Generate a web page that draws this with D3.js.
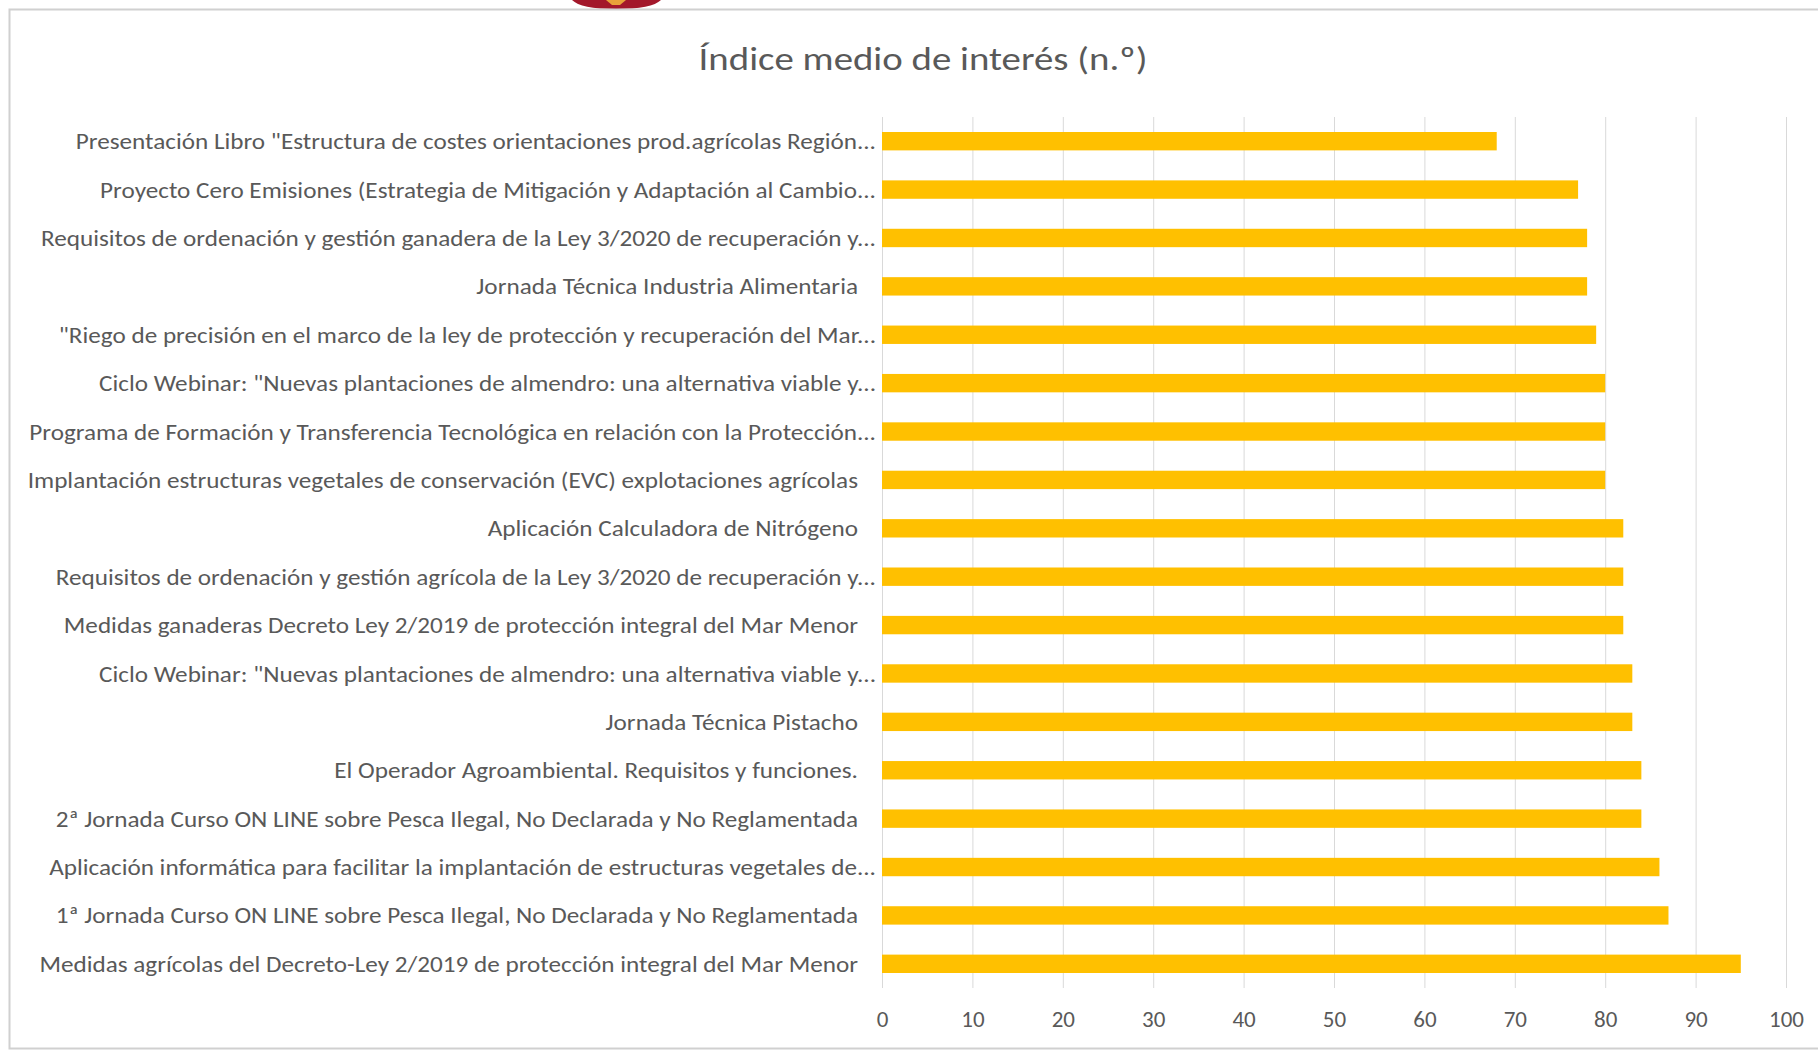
<!DOCTYPE html>
<html>
<head>
<meta charset="utf-8">
<script src="https://cdn.jsdelivr.net/npm/d3@7"></script>
<style>
  body { margin: 0; background: #fff; }
  svg { display: block; }
  text { fill: #595959; }
</style>
</head>
<body>
<script>
// categories, top to bottom as in the chart
var categories = [
  'Presentación Libro "Estructura de costes orientaciones prod.agrícolas Región...',
  'Proyecto Cero Emisiones (Estrategia de Mitigación y Adaptación al Cambio...',
  'Requisitos de ordenación y gestión ganadera de la Ley 3/2020 de recuperación y...',
  'Jornada Técnica Industria Alimentaria',
  '"Riego de precisión en el marco de la ley de protección y recuperación del Mar...',
  'Ciclo Webinar: "Nuevas plantaciones de almendro: una alternativa viable y...',
  'Programa de Formación y Transferencia Tecnológica en relación con la Protección...',
  'Implantación estructuras vegetales de conservación (EVC) explotaciones agrícolas',
  'Aplicación Calculadora de Nitrógeno',
  'Requisitos de ordenación y gestión agrícola de la Ley 3/2020 de recuperación y...',
  'Medidas ganaderas Decreto Ley 2/2019 de protección integral del Mar Menor',
  'Ciclo Webinar: "Nuevas plantaciones de almendro: una alternativa viable y... ',
  'Jornada Técnica Pistacho',
  'El Operador Agroambiental. Requisitos y funciones.',
  '2ª Jornada Curso ON LINE sobre Pesca Ilegal, No Declarada y No Reglamentada',
  'Aplicación informática para facilitar la implantación de estructuras vegetales de...',
  '1ª Jornada Curso ON LINE sobre Pesca Ilegal, No Declarada y No Reglamentada',
  'Medidas agrícolas del Decreto-Ley 2/2019 de protección integral del Mar Menor'
];

// mean interest index per session
var values = [68, 77, 78, 78, 79, 80, 80, 80, 82, 82, 82, 83, 83, 84, 84, 86, 87, 95];

// x axis ticks
var xTicks = [0, 10, 20, 30, 40, 50, 60, 70, 80, 90, 100];

var title = 'Índice medio de interés (n.º)';

var width = 1818,
    height = 1051;

var font = "Carlito, Calibri, 'Liberation Sans Narrow', 'DejaVu Sans Condensed', 'Open Sans', sans-serif";

var svg = d3.select('body').append('svg')
  .attr('width', width)
  .attr('height', height);

// logo fragment peeking at the top
svg.append('path')
  .attr('d', 'M572,0 L661,0 C655,6 640,9 616,9 C592,9 578,6 572,0 Z')
  .attr('fill', '#a3182b');
svg.append('path')
  .attr('d', 'M606,0 L626,0 L620,5 L612,5 Z')
  .attr('fill', '#e8a23a');

// chart frame
svg.append('rect')
  .attr('x', 9.5).attr('y', 9.5)
  .attr('width', width + 10).attr('height', 1039)
  .attr('fill', '#fff')
  .attr('stroke', '#d0d0d0')
  .attr('stroke-width', 2);

// scales
var x = d3.scaleLinear()
  .domain([0, 100])
  .range([882, 1786]);

var y = d3.scaleBand()
  .domain(categories)
  .range([117, 988])
  .paddingInner(0.62)
  .paddingOuter(0.31);

// gridlines
svg.append('g')
  .selectAll('line')
  .data(xTicks)
  .enter().append('line')
  .attr('x1', function(d) { return x(d) + 0.5; })
  .attr('x2', function(d) { return x(d) + 0.5; })
  .attr('y1', 117)
  .attr('y2', 988)
  .attr('stroke', '#d9d9d9')
  .attr('stroke-width', 1);

// bars
svg.append('g')
  .selectAll('rect')
  .data(values)
  .enter().append('rect')
  .attr('x', x(0))
  .attr('y', function(d, i) { return y(categories[i]); })
  .attr('width', function(d) { return x(d) - x(0); })
  .attr('height', y.bandwidth())
  .attr('fill', '#ffc000');

// x axis tick labels
var xAxis = svg.append('g')
  .attr('transform', 'translate(0,1011)')
  .call(d3.axisBottom(x).tickValues(xTicks).tickSize(0).tickPadding(0));
xAxis.select('.domain').remove();
xAxis.selectAll('text')
  .attr('font-family', font)
  .attr('font-size', 23)
  .attr('dy', '0.71em')
  .style('fill', '#595959');

// category labels
var labels = svg.append('g');
labels.selectAll('text')
  .data(categories)
  .enter().append('text')
  .attr('x', function(d) { return /\.\.\.\s*$/.test(d) ? 876 : 858; })
  .attr('y', function(d) { return y(d) + y.bandwidth() / 2; })
  .attr('dy', '0.35em')
  .attr('text-anchor', 'end')
  .attr('font-family', font)
  .attr('font-size', 23)
  .text(function(d) { return d.trim(); });

// stretch labels so the longest one spans the width seen in the chart
var longest = 0;
labels.selectAll('text').each(function() {
  longest = Math.max(longest, this.getComputedTextLength());
});
var k = 847 / longest;
labels.selectAll('text').each(function() {
  var t = d3.select(this);
  var ax = +t.attr('x');
  t.attr('transform', 'translate(' + ax + ',0) scale(' + k + ',1) translate(' + (-ax) + ',0)');
});

// title
var t = svg.append('text')
  .attr('x', 923)
  .attr('y', 58)
  .attr('dy', '0.35em')
  .attr('text-anchor', 'middle')
  .attr('font-family', font)
  .attr('font-size', 33)
  .text(title);
var tw = t.node().getComputedTextLength();
var tk = 449 / tw;
t.attr('transform', 'translate(923,0) scale(' + tk + ',1) translate(-923,0)');
</script>
</body>
</html>
